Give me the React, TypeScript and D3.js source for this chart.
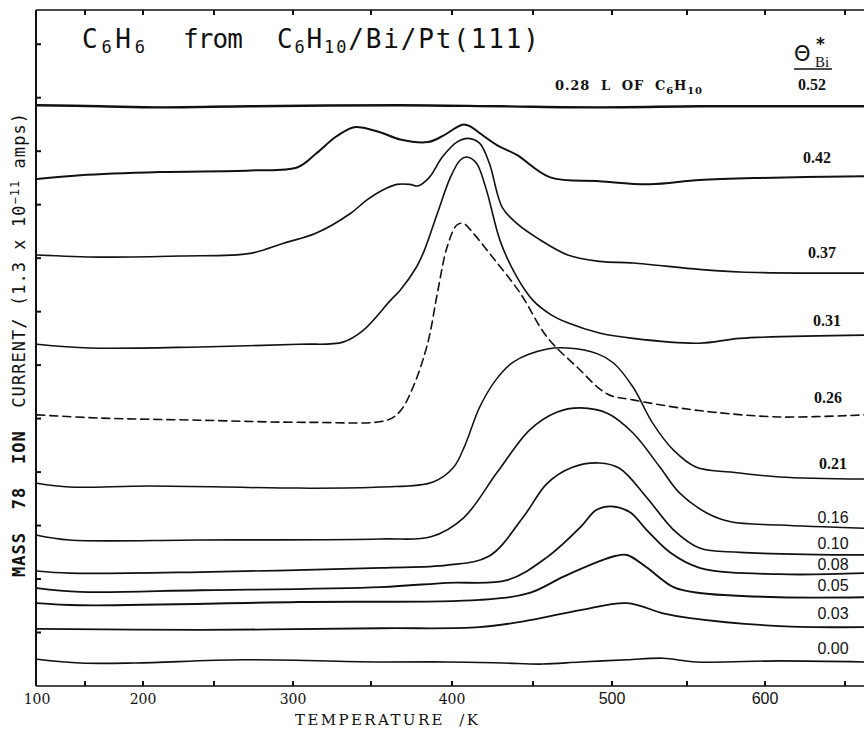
import React from 'react';
import * as d3 from 'd3';

// ---- axis ticks / labels ----
const xTickValues = [150, 200, 250, 300, 350, 400, 450, 500, 550, 600, 650];
const xTickLabels = [100, 200, 300, 400, 500, 600];
const yTickValues = [1, 2, 3, 4, 5, 6, 7, 8, 9, 10, 11, 12];

// ---- series (temperature K, ion current in units of 1.3e-11 A, offset traces) ----
const s052: [number, number][] = [[100,10.86],[163,10.84],[212,10.82],[273,10.84],[368,10.86],[430,10.84],[492,10.82],[558,10.84],[609,10.84],[662,10.84]];
const s042: [number, number][] = [[100,9.48],[145,9.55],[212,9.61],[273,9.64],[303,9.70],[315,9.96],[327,10.26],[337,10.43],[341,10.45],[349,10.41],[357,10.34],[368,10.22],[385,10.17],[394,10.28],[402,10.43],[407,10.50],[411,10.47],[417,10.34],[428,10.11],[440,9.93],[461,9.51],[492,9.44],[525,9.38],[558,9.46],[597,9.50],[662,9.53]];
const s037: [number, number][] = [[100,8.06],[163,8.02],[226,8.04],[273,8.09],[294,8.28],[315,8.47],[337,8.84],[347,9.08],[357,9.27],[366,9.38],[374,9.38],[379,9.35],[386,9.51],[394,9.89],[403,10.17],[410,10.24],[417,10.15],[423,9.78],[431,8.95],[440,8.65],[453,8.37],[472,8.06],[492,7.94],[514,7.91],[558,7.79],[584,7.74],[662,7.72]];
const s031: [number, number][] = [[100,6.39],[154,6.32],[240,6.34],[304,6.39],[332,6.43],[345,6.65],[362,7.21],[368,7.40],[378,7.83],[383,8.15],[391,8.84],[399,9.51],[405,9.83],[409,9.89],[415,9.78],[421,9.30],[430,8.30],[440,7.65],[450,7.21],[461,6.95],[472,6.79],[492,6.60],[514,6.50],[558,6.41],[584,6.50],[662,6.56]];
const s026: [number, number][] = [[100,5.07],[163,5.01],[240,4.97],[311,4.93],[360,4.97],[368,5.14],[376,5.59],[385,6.41],[391,7.35],[397,8.21],[403,8.62],[407,8.65],[413,8.47],[425,8.02],[442,7.35],[459,6.52],[478,5.96],[497,5.46],[514,5.35],[545,5.20],[567,5.12],[609,5.03],[662,5.07]];
const s021: [number, number][] = [[100,3.79],[134,3.72],[205,3.74],[304,3.70],[356,3.72],[388,3.81],[401,4.09],[408,4.50],[417,5.21],[427,5.72],[438,6.06],[459,6.30],[472,6.32],[491,6.21],[501,6.04],[514,5.59],[527,4.92],[541,4.41],[556,4.09],[578,4.00],[609,3.91],[662,3.87]];
const s016: [number, number][] = [[100,2.82],[134,2.73],[240,2.73],[356,2.75],[387,2.79],[407,3.14],[428,4.00],[448,4.79],[465,5.12],[480,5.20],[497,5.10],[514,4.73],[532,4.09],[545,3.61],[563,3.23],[578,3.07],[609,3.01],[662,2.95]];
const s010: [number, number][] = [[100,2.15],[134,2.11],[240,2.13],[356,2.21],[397,2.26],[423,2.43],[444,3.16],[459,3.79],[475,4.09],[492,4.17],[505,4.07],[523,3.53],[541,2.92],[558,2.58],[584,2.50],[662,2.45]];
const s008: [number, number][] = [[100,1.83],[145,1.76],[240,1.79],[356,1.85],[397,1.93],[434,1.98],[459,2.41],[480,2.97],[490,3.29],[499,3.36],[512,3.25],[523,2.92],[539,2.49],[558,2.21],[609,2.09],[662,2.11]];
const s005: [number, number][] = [[100,1.55],[145,1.51],[304,1.57],[417,1.61],[448,1.74],[469,2.04],[491,2.32],[502,2.43],[510,2.45],[523,2.22],[541,1.85],[558,1.74],[609,1.66],[662,1.66]];
const s003: [number, number][] = [[100,1.07],[240,1.05],[356,1.08],[417,1.10],[448,1.23],[480,1.42],[510,1.55],[534,1.36],[552,1.27],[609,1.12],[662,1.10]];
const s000: [number, number][] = [[100,0.50],[145,0.43],[193,0.43],[268,0.49],[356,0.45],[397,0.45],[431,0.43],[456,0.41],[480,0.45],[510,0.49],[534,0.52],[556,0.45],[609,0.47],[662,0.45]];

const coverage = ['0.52','0.42','0.37','0.31','0.26','0.21','0.16','0.10','0.08','0.05','0.03','0.00'];
const seriesData = [s052, s042, s037, s031, s026, s021, s016, s010, s008, s005, s003, s000];

// layout / style (not data)
const W = 864, H = 731;
const strokeW = [2.4, 2.0, 1.6, 1.6, 1.6, 1.5, 1.6, 1.7, 1.8, 1.9, 1.8, 1.6];
const labelX = [812, 817, 822, 827, 828, 833, 833, 833, 833, 833, 833, 833];
const labelLift = [16, 13, 15, 9, 12, 10, 5, 6, 3, 6, 8, 8];
const labelSerif = [true, true, true, true, true, true, false, false, false, false, false, false];

const x = d3.scaleLinear()
  .domain([100, 150, 200, 250, 300, 350, 400, 450, 500, 550, 600, 650])
  .range([37, 85, 143, 214, 293, 371, 452, 533, 612, 687, 765, 845]);
const y = d3.scaleLinear().domain([0, 12.64]).range([686, 10]);

const line = d3.line<[number, number]>()
  .x(d => x(d[0]))
  .y(d => y(d[1]))
  .curve(d3.curveCatmullRom.alpha(0.5));

const INK = '#111';
const pre = { whiteSpace: 'pre' as const };

export default function App() {
  const left = x(100) - 1;
  const right = W;
  const top = y(12.64);
  const bottom = y(0);
  return (
    <div style={{ position: 'absolute', left: 0, top: 0 }}>
      <svg width={W} height={H} style={{ display: 'block', background: '#fff' }}>
        <rect x={0} y={0} width={W} height={H} fill="#fff" />
        {/* frame */}
        <line x1={left} x2={right} y1={top} y2={top} stroke={INK} strokeWidth={1.6} />
        <line x1={left} x2={right} y1={bottom} y2={bottom} stroke={INK} strokeWidth={1.6} />
        <line x1={left} x2={left} y1={top} y2={bottom} stroke={INK} strokeWidth={2} />
        {xTickValues.map(t => (
          <g key={'xt' + t}>
            <line x1={x(t)} x2={x(t)} y1={bottom} y2={bottom - 5} stroke={INK} strokeWidth={2} />
            <line x1={x(t)} x2={x(t)} y1={top} y2={top + 5} stroke={INK} strokeWidth={2} />
          </g>
        ))}
        {yTickValues.map(v => (
          <line key={'yt' + v} x1={left} x2={left + 5} y1={y(v)} y2={y(v)} stroke={INK} strokeWidth={2} />
        ))}
        {xTickLabels.map(t => (
          <text key={'xl' + t} x={x(t)} y={bottom + 18} textAnchor="middle"
            fontFamily={t >= 500 ? 'Liberation Sans, Arial, sans-serif' : 'DejaVu Serif, serif'}
            fontSize={t >= 500 ? 16 : 14} fill={INK}>{t}</text>
        ))}
        <text x={295} y={725} fontFamily="DejaVu Serif, serif" fontSize={15} fill={INK} style={pre}
          textLength={183} lengthAdjust="spacing">TEMPERATURE  /K</text>

        {/* y label */}
        <text transform="translate(25,345) rotate(-90)" textAnchor="middle" fontFamily="DejaVu Sans Mono, monospace"
          fontSize={17} fill={INK} textLength={464} lengthAdjust="spacing" style={pre}>
          <tspan fontWeight="bold">MASS  78  ION  </tspan>
          <tspan>CURRENT/ (1.3 x 10</tspan>
          <tspan fontSize={12} dy={-6}>−11</tspan>
          <tspan dy={6}> amps)</tspan>
        </text>

        {/* title */}
        <g fontFamily="DejaVu Sans Mono, monospace" fill={INK}>
          <text x={82} y={48} fontSize={26} textLength={63} lengthAdjust="spacing">
            <tspan>C</tspan><tspan fontSize={17} dy={5}>6</tspan><tspan dy={-5}>H</tspan><tspan fontSize={17} dy={5}>6</tspan>
          </text>
          <text x={183} y={48} fontSize={26} textLength={60} lengthAdjust="spacing">from</text>
          <text x={277} y={48} fontSize={26} textLength={262} lengthAdjust="spacing">
            <tspan>C</tspan><tspan fontSize={17} dy={5}>6</tspan><tspan dy={-5}>H</tspan><tspan fontSize={17} dy={5}>10</tspan><tspan dy={-5}>/Bi/Pt(111)</tspan>
          </text>
        </g>

        {/* exposure note */}
        <text x={555} y={90} fontFamily="DejaVu Serif, serif" fontSize={13} fontWeight="bold" fill={INK}
          textLength={147} lengthAdjust="spacing" style={pre}>
          <tspan>0.28  L  OF  C</tspan><tspan fontSize={10} dy={4}>6</tspan><tspan dy={-4}>H</tspan><tspan fontSize={10} dy={4}>10</tspan>
        </text>

        {/* theta header */}
        <g fill={INK}>
          <text x={794} y={61} fontFamily="DejaVu Sans, sans-serif" fontSize={21}>Θ</text>
          <text x={815} y={67} fontFamily="Liberation Serif, serif" fontSize={15}>Bi</text>
          <text x={816} y={50} fontFamily="DejaVu Sans, sans-serif" fontSize={17} fontWeight="bold">*</text>
          <line x1={794} x2={832} y1={69} y2={69} stroke={INK} strokeWidth={1.5} />
        </g>

        {/* traces */}
        {seriesData.map((s, i) => (
          <path key={'s' + i} d={line(s) || ''} fill="none" stroke={INK} strokeWidth={strokeW[i]}
            strokeDasharray={coverage[i] === '0.26' ? '8 5' : undefined} strokeLinejoin="round" strokeLinecap="round" />
        ))}

        {/* coverage labels */}
        {seriesData.map((s, i) => (
          <text key={'l' + i} x={labelX[i]} y={y(s[s.length - 1][1]) - labelLift[i]} textAnchor="middle"
            fontFamily={labelSerif[i] ? 'Liberation Serif, serif' : 'Liberation Sans, Arial, sans-serif'}
            fontWeight={labelSerif[i] ? 'bold' : 'normal'} fontSize={16} fill={INK}>{coverage[i]}</text>
        ))}
      </svg>
    </div>
  );
}
